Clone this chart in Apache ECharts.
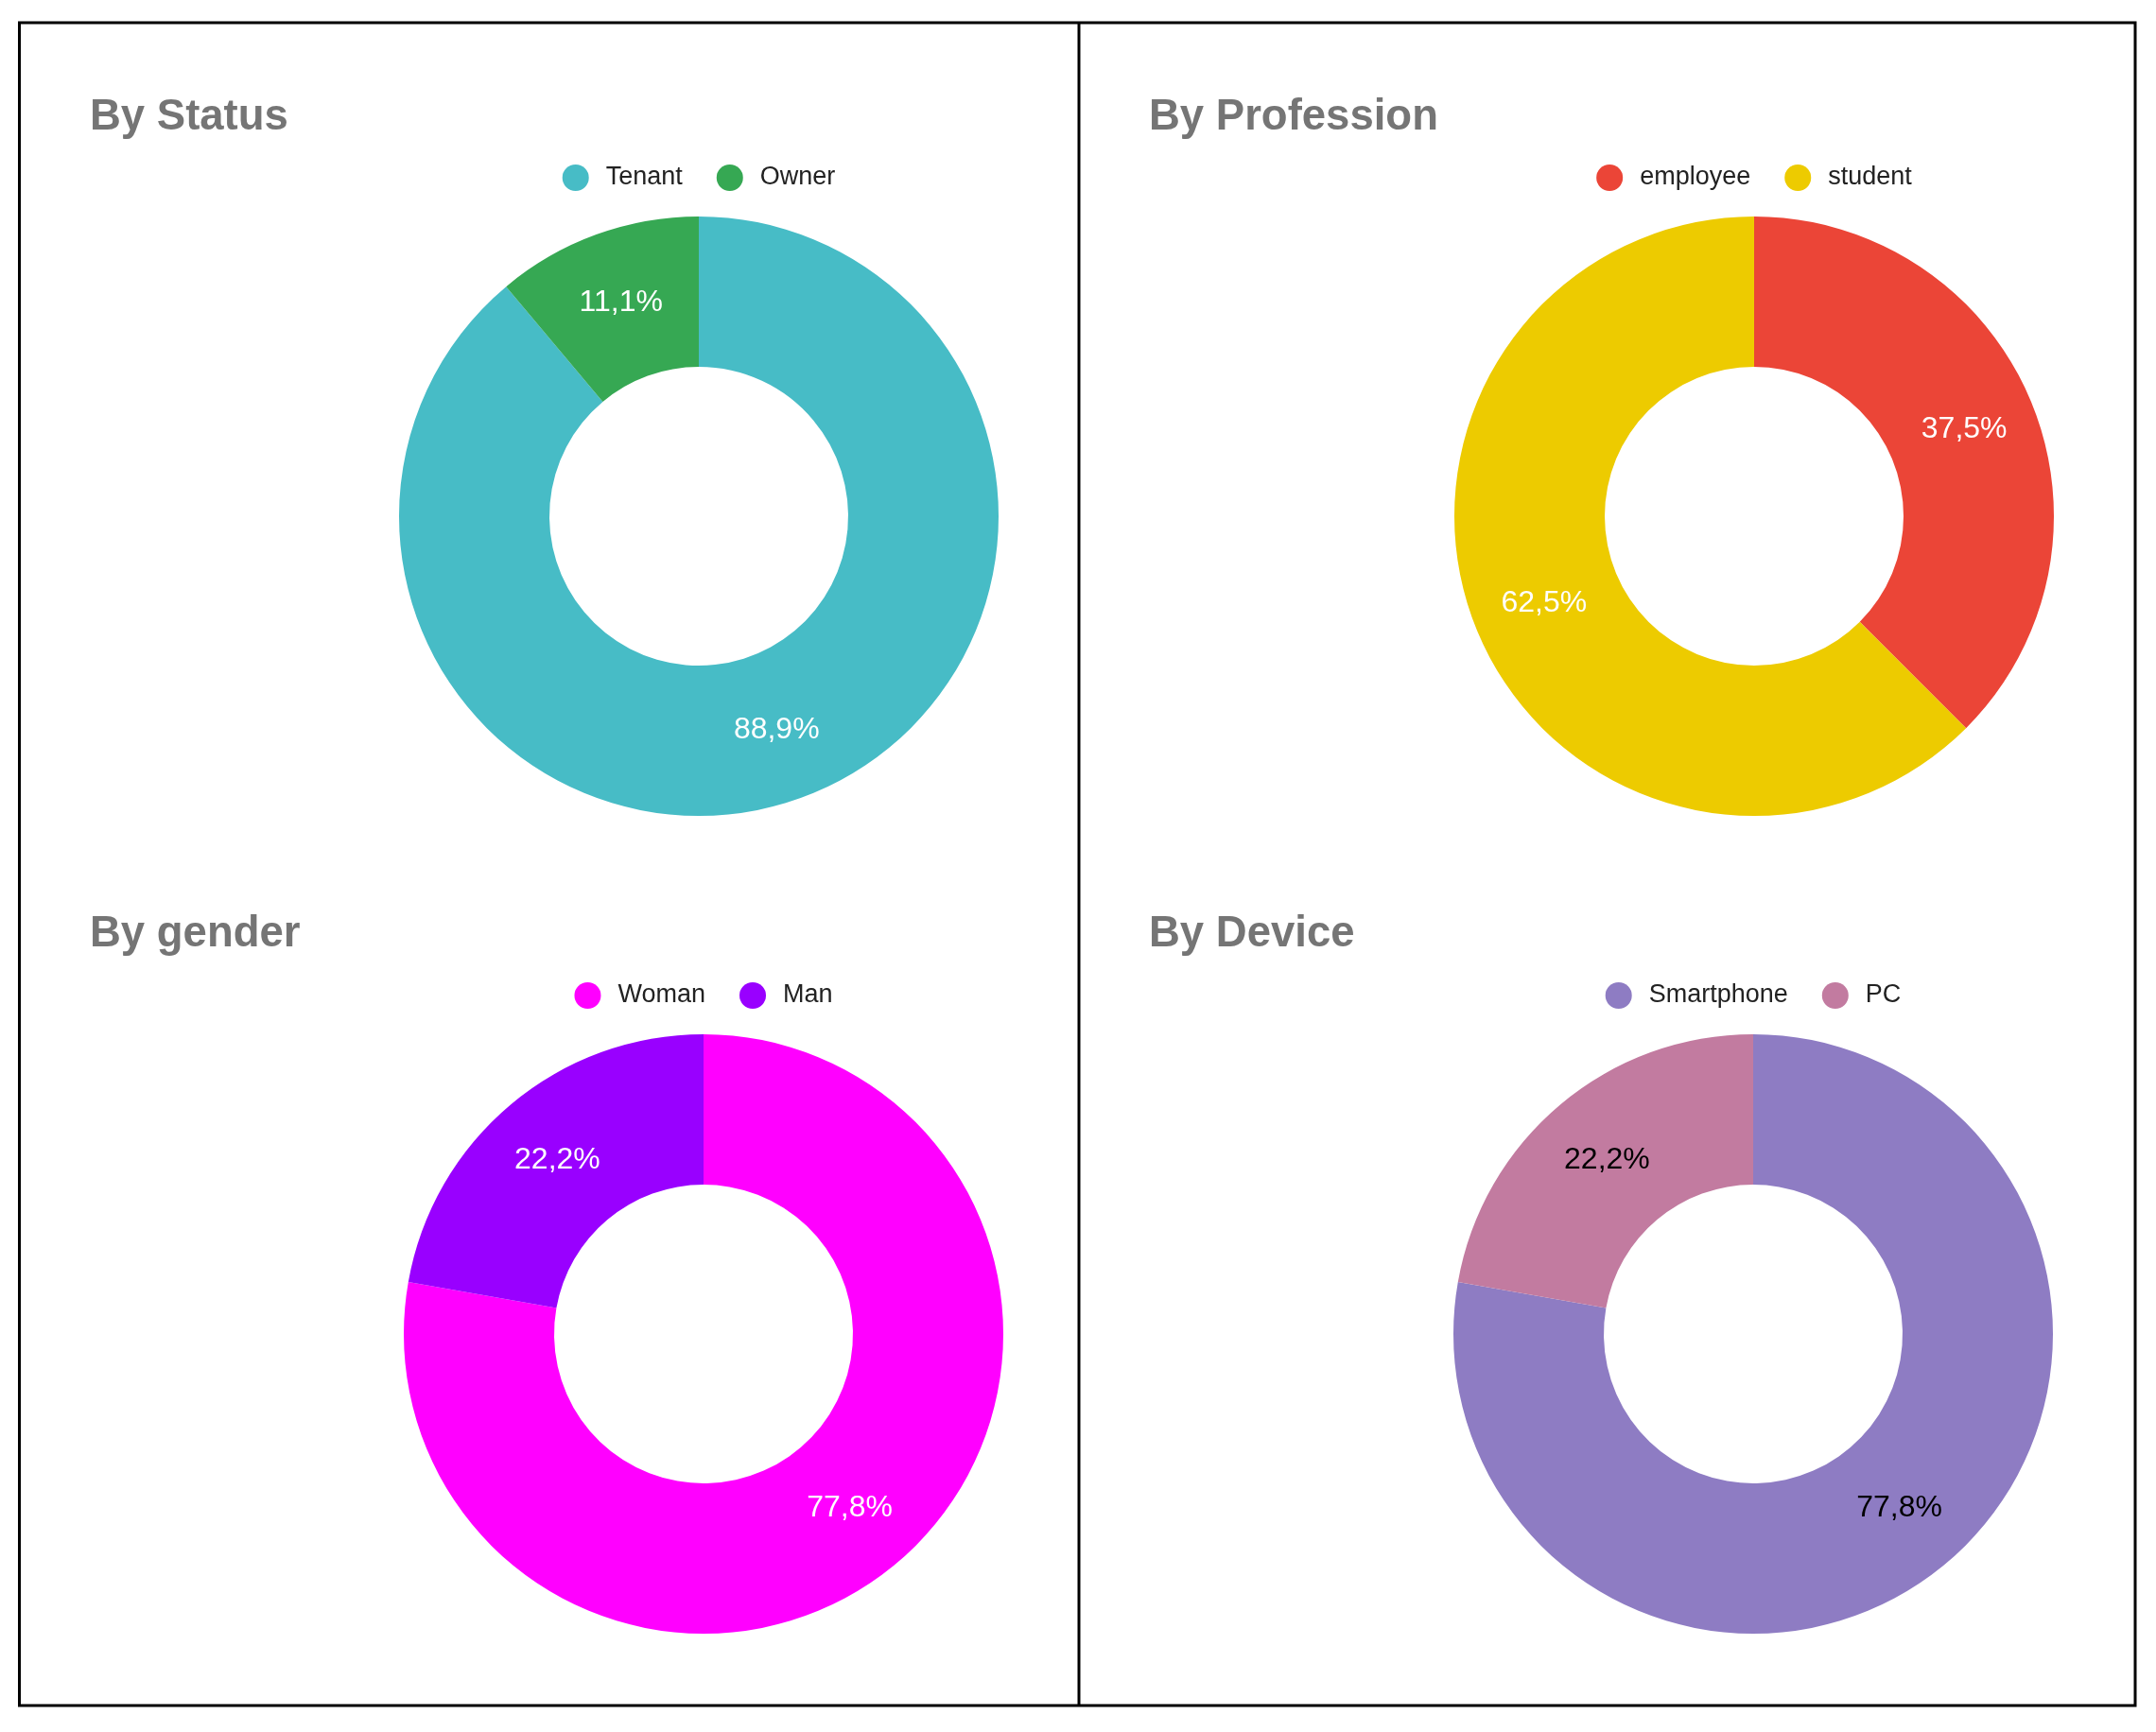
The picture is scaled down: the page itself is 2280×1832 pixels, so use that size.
<!DOCTYPE html>
<html>
<head>
    <meta charset="utf-8">
    <title>Donuts</title>
    <script src="https://cdn.jsdelivr.net/npm/echarts@6/dist/echarts.min.js"></script>
    <style>
        html, body { margin: 0; padding: 0; background: #fff; }
    </style>
</head>
<body>
    <div id="main" style="width: 2280px;height:1832px;"></div>
    <script type="text/javascript">
        // data
        var statusNames = ['Tenant', 'Owner'];
        var statusValues = [8, 1];
        var professionNames = ['employee', 'student'];
        var professionValues = [3, 5];
        var genderNames = ['Woman', 'Man'];
        var genderValues = [7, 2];
        var deviceNames = ['Smartphone', 'PC'];
        var deviceValues = [7, 2];

        var FONT = 'Liberation Sans, Arial, sans-serif';
        var LEGEND_SIZE = 27, ICON = 28, TEXT_PAD = 13, GAP = 36;

        // measure legend width so it can be centred on its donut
        var ctx = document.createElement('canvas').getContext('2d');
        ctx.font = LEGEND_SIZE + 'px ' + FONT;
        function legendLeft(names, cx) {
            var w = 0;
            names.forEach(function (n, i) {
                w += ICON + 5 + TEXT_PAD + ctx.measureText(n).width;
                if (i > 0) w += GAP;
            });
            return cx - w / 2;
        }

        var panels = [
            {title: 'By Status', names: statusNames, values: statusValues,
             colors: ['#47BCC6', '#36A853'], label: '#fff', tx: 95, ty: 101, cx: 739, cy: 546},
            {title: 'By Profession', names: professionNames, values: professionValues,
             colors: ['#EB4537', '#EDCB00'], label: '#fff', tx: 1215, ty: 101, cx: 1855, cy: 546},
            {title: 'By gender', names: genderNames, values: genderValues,
             colors: ['#FF00FF', '#9900FF'], label: '#fff', tx: 95, ty: 965, cx: 744, cy: 1411},
            {title: 'By Device', names: deviceNames, values: deviceValues,
             colors: ['#8E7CC3', '#C27BA0'], label: '#000', tx: 1215, ty: 965, cx: 1854, cy: 1411}
        ];

        var myChart = echarts.init(document.getElementById('main'));
        var option = {
            animation: false,
            backgroundColor: '#fff',
            title: [],
            legend: [],
            series: [],
            graphic: [
                { type: 'rect', shape: {x: 20.5, y: 24, width: 2237.5, height: 1780},
                  style: {fill: 'none', stroke: '#000', lineWidth: 3} },
                { type: 'line', shape: {x1: 1141, y1: 24, x2: 1141, y2: 1804},
                  style: {stroke: '#000', lineWidth: 3} }
            ]
        };

        panels.forEach(function (p, i) {
            option.title.push({
                text: p.title,
                left: p.tx,
                top: p.ty,
                padding: 0,
                textStyle: {fontFamily: FONT, fontSize: 45.5, fontWeight: 'bold', color: '#757575'}
            });
            option.legend.push({
                data: p.names,
                left: legendLeft(p.names, p.cx),
                top: p.cy - 358 - ICON / 2,
                padding: 0,
                icon: 'circle',
                itemWidth: ICON,
                itemHeight: ICON,
                itemGap: GAP,
                selectedMode: false,
                textStyle: {fontFamily: FONT, fontSize: LEGEND_SIZE, color: '#222', padding: [0, 0, 0, TEXT_PAD]}
            });
            option.series.push({
                type: 'pie',
                name: p.title,
                center: [p.cx, p.cy],
                radius: [158, 317],
                startAngle: 90,
                clockwise: true,
                legendIndex: i,
                color: p.colors,
                silent: true,
                label: {
                    show: true,
                    position: 'inside',
                    fontFamily: FONT,
                    fontSize: 32,
                    color: p.label,
                    formatter: function (params) {
                        return params.percent.toFixed(1).replace('.', ',') + '%';
                    }
                },
                labelLine: {show: false},
                emphasis: {disabled: true},
                data: p.names.map(function (n, k) {
                    return {name: n, value: p.values[k]};
                })
            });
        });

        myChart.setOption(option);
    </script>
</body>
</html>
